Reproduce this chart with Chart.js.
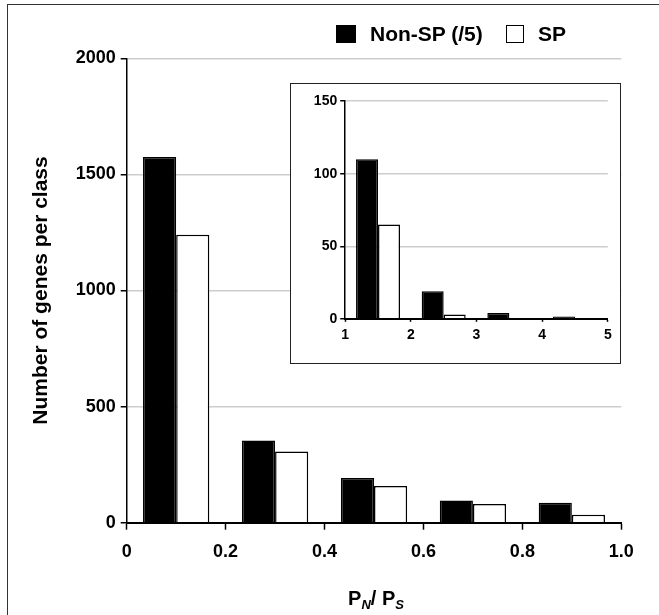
<!DOCTYPE html>
<html>
<head>
<meta charset="utf-8">
<script src="https://cdn.jsdelivr.net/npm/chart.js@4.4.1/dist/chart.umd.min.js"></script>
<style>
  body { margin: 0; width: 659px; height: 615px; overflow: hidden; background: #fff; position: relative;
         font-family: "Liberation Sans", Arial, sans-serif; font-weight: bold; color: #000; }
  .frame { position: absolute; left: 6.5px; top: 4px; width: 900px; height: 900px; border: 1.5px solid #333; }
  #main { position: absolute; left: 0; top: 0; }
  .inset { position: absolute; left: 290px; top: 83px; width: 329px; height: 279px; border: 1.5px solid #222; background: #fff; }
  .inset canvas { display: block; }
  .key { position: absolute; top: 25px; height: 18px; box-sizing: border-box; }
  .key-text { position: absolute; top: 21px; font-size: 21px; line-height: 26px; white-space: nowrap; }
  .xtitle { position: absolute; left: 276px; width: 200px; top: 588px; text-align: center; font-size: 20px; line-height: 20px; white-space: nowrap; }
  .xtitle sub { font-size: 13px; font-style: italic; vertical-align: -4px; line-height: 0; }
</style>
</head>
<body>
<div class="frame"></div>
<canvas id="main" width="659" height="615"></canvas>
<div class="inset"><canvas id="inset" width="329" height="279"></canvas></div>

<div class="key" style="left:336px; width:20px; background:#000;"></div>
<div class="key-text" style="left:370px;">Non-SP (/5)</div>
<div class="key" style="left:506px; width:18px; background:#fff; border:1.5px solid #000;"></div>
<div class="key-text" style="left:538px;">SP</div>
<div class="xtitle">P<sub>N</sub>/ P<sub>S</sub></div>

<script>
// main histogram, P_N / P_S classes of width 0.2
const mainBins = [0.1, 0.3, 0.5, 0.7, 0.9]
const mainNonSP = [1575, 354, 192, 96, 86]
const mainSP = [1240, 307, 158, 80, 34]
const mainXTicks = [0, 0.2, 0.4, 0.6, 0.8, 1.0]
const mainXLabels = ['0', '0.2', '0.4', '0.6', '0.8', '1.0']
const mainYTicks = [0, 500, 1000, 1500, 2000]

// inset, classes above 1
const insetBins = [1.5, 2.5, 3.5, 4.5]
const insetNonSP = [110, 19, 4, 1.5]
const insetSP = [65, 3, 0, 0]
const insetXTicks = [1, 2, 3, 4, 5]
const insetXLabels = ['1', '2', '3', '4', '5']
const insetYTicks = [0, 50, 100, 150]

font = (size) => ({ family: '"Liberation Sans", Arial, sans-serif', size: size, weight: 'bold' })

pairs = (xs, ys) => xs.map((x, i) => ({ x: x, y: ys[i] }))

histogram = (canvas, p) => new Chart(canvas, {
    type: 'bar',
    data: {
        datasets: [
            { label: 'Non-SP (/5)', data: pairs(p.bins, p.nonSP), backgroundColor: '#000', borderColor: '#000', borderWidth: 1.5 },
            { label: 'SP', data: pairs(p.bins, p.sp), backgroundColor: '#fff', borderColor: '#000', borderWidth: 1.5 }
        ]
    },
    options: {
        responsive: false,
        animation: false,
        events: [],
        datasets: { bar: { categoryPercentage: 0.67, barPercentage: 1 } },
        layout: { padding: p.padding },
        plugins: { legend: { display: false }, tooltip: { enabled: false } },
        scales: {
            x: {
                type: 'linear',
                offset: false,
                min: p.xTicks[0],
                max: p.xTicks[p.xTicks.length - 1],
                afterBuildTicks: (s) => { s.ticks = p.xTicks.map((v) => ({ value: v })) },
                afterFit: (s) => { s.height = p.xHeight },
                ticks: { color: '#000', font: font(p.xFont), padding: p.xPad, maxRotation: 0, autoSkip: false,
                         callback: (v, i) => p.xLabels[i] },
                grid: { offset: false, drawOnChartArea: false, tickLength: p.xTickLen, tickColor: '#000', tickWidth: 1.5 },
                border: { color: '#000', width: 2 }
            },
            y: {
                min: p.yTicks[0],
                max: p.yTicks[p.yTicks.length - 1],
                afterBuildTicks: (s) => { s.ticks = p.yTicks.map((v) => ({ value: v })) },
                afterFit: (s) => { s.width = p.yWidth },
                ticks: { color: '#000', font: font(p.yFont), padding: p.yPad, callback: (v) => String(v) },
                grid: { color: '#cdcdcd', lineWidth: 1.5, tickLength: p.yTickLen, tickColor: '#000', tickWidth: 1.5 },
                border: { color: '#000', width: 1.5 },
                title: p.yTitle ? { display: true, text: p.yTitle, color: '#000', font: font(21), padding: { top: 29, bottom: 0 } } : { display: false }
            }
        }
    }
})

histogram(document.getElementById('main'), {
    bins: mainBins, nonSP: mainNonSP, sp: mainSP,
    xTicks: mainXTicks, xLabels: mainXLabels, yTicks: mainYTicks,
    padding: { left: 0, top: 58.3, right: 37.7, bottom: 0 },
    yWidth: 126.7, xHeight: 92.3, xFont: 18, yFont: 18, xPad: 12, yPad: 5, xTickLen: 7, yTickLen: 6,
    yTitle: 'Number of genes per class'
})

histogram(document.getElementById('inset'), {
    bins: insetBins, nonSP: insetNonSP, sp: insetSP,
    xTicks: insetXTicks, xLabels: insetXLabels, yTicks: insetYTicks,
    padding: { left: 0, top: 17.2, right: 12.2, bottom: 0 },
    yWidth: 54.2, xHeight: 44.2, xFont: 14, yFont: 14, xPad: 5, yPad: 3, xTickLen: 3, yTickLen: 5
})
</script>
</body>
</html>
